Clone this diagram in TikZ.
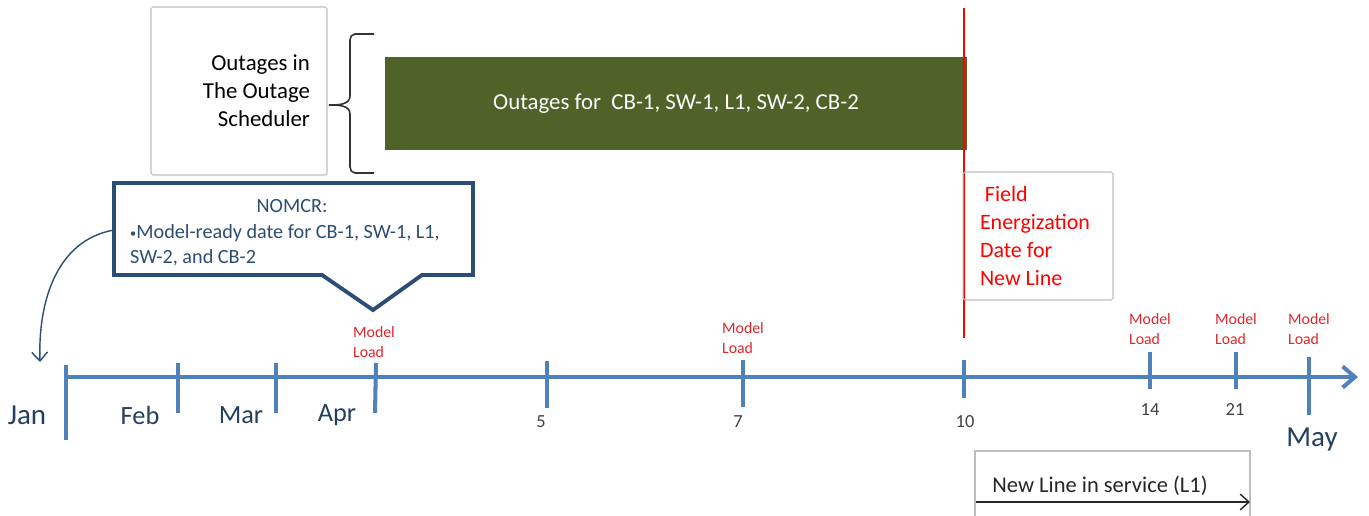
\documentclass[tikz,border=0pt]{standalone}
\usepackage{fontspec}
\setmainfont{Carlito}
\usetikzlibrary{arrows.meta}

\definecolor{axisblue}{HTML}{4F81BD}
\definecolor{barolive}{HTML}{4F6228}
\definecolor{calloutblue}{HTML}{2C4D75}
\definecolor{monthblue}{HTML}{243F60}
\definecolor{numgrey}{HTML}{404040}
\definecolor{boxgrey}{HTML}{BFBFBF}
\definecolor{loadred}{HTML}{E0262B}

\newcommand{\smallbullet}{{\fontsize{7}{7}\selectfont\raisebox{0.5pt}{•}}}

\begin{document}
\begin{tikzpicture}[x=0.02cm,y=-0.02cm,
    axisline/.style={axisblue,line width=2.3pt},
    axistick/.style={axisblue,line width=2.3pt},
    month/.style={monthblue,font=\fontsize{15}{18}\selectfont},
    bigmonth/.style={monthblue,font=\fontsize{16.5}{19}\selectfont},
    daynum/.style={numgrey,font=\fontsize{10.5}{12}\selectfont},
    modelload/.style={loadred,align=flush left,font=\fontsize{9}{11}\selectfont},
    greybox/.style={draw=boxgrey,line width=0.6pt,rounded corners=1pt}]
  \useasboundingbox (0,0) rectangle (1369,516);

  % Scheduler box and brace
  \node[greybox,minimum width=3.52cm,minimum height=3.36cm,text width=2.84cm,
        inner xsep=0.34cm,align=flush right,font=\fontsize{13}{16}\selectfont]
        (sched) at (239,91) {Outages in\\The Outage\\Scheduler};
  \draw[line width=0.9pt,black!80] (374,34) -- (355,34) to[out=180,in=90] (350,40)
        -- (350,96) to[out=-90,in=0] (329,105) to[out=0,in=90] (350,114)
        -- (350,167) to[out=-90,in=180] (355,173) -- (374,173);

  % Outage bar
  \node[fill=barolive,minimum width=11.64cm,minimum height=1.86cm,text=white,
        font=\fontsize{13}{16}\selectfont] (outbar) at (676,103.5)
        {Outages for\ \ CB-1, SW-1, L1, SW-2, CB-2};

  % Energization line and box
  \draw[red,line width=0.7pt] (964,8) -- (964,338);
  \node[greybox,minimum width=3cm,minimum height=2.56cm,text width=2.32cm,
        inner xsep=0.34cm,align=flush left,text=red,font=\fontsize{12.5}{16}\selectfont]
        (fieldbox) at (1038,236) {\ Field\\Energization\\Date for\\New Line};

  % NOMCR callout
  \draw[calloutblue,line width=2.2pt] (114,183) -- (473,183) -- (473,275) -- (422,275)
        -- (373,310) -- (322,275) -- (114,275) -- cycle;
  \node[calloutblue,font=\fontsize{11.5}{14}\selectfont] (nomcr) at (292,206) {NOMCR:};
  \node[calloutblue,anchor=west,align=flush left,font=\fontsize{11.5}{14}\selectfont]
        (readydate) at (124,245) {\smallbullet Model-ready date for CB-1, SW-1, L1,\\SW-2, and CB-2};
  \coordinate (calloutleft) at (114,230);
  \coordinate (janmark) at (40,362);
  \draw[calloutblue,line width=0.8pt,-{Straight Barb[length=5pt,width=9pt]}]
        (calloutleft) to[out=190,in=92] (janmark);

  % Time axis
  \draw[axisline,-{Straight Barb[length=7pt,width=12pt]}] (66,377) -- (1358,377);
  \draw[axistick] (66,365) -- (66,440);
  \draw[axistick] (178,363) -- (178,413);
  \draw[axistick] (276,363) -- (276,413);
  \draw[axistick] (376,363) -- (375,413);
  \draw[axistick] (547,361) -- (547,408);
  \draw[axistick] (743,360) -- (743,407);
  \draw[axistick] (964,360) -- (964,398);
  \draw[axistick] (1150,352) -- (1150,389);
  \draw[axistick] (1236,352) -- (1236,389);
  \draw[axistick] (1309,357) -- (1309,415);

  % Months
  \node[bigmonth] (jan) at (27,415) {Jan};
  \node[month] (feb) at (140,415) {Feb};
  \node[month] (mar) at (241,415) {Mar};
  \node[month] (apr) at (337,415) {Apr};
  \node[bigmonth] (may) at (1312,440) {May};

  % Days
  \node[daynum] (d5) at (541,422) {5};
  \node[daynum] (d7) at (738,422) {7};
  \node[daynum] (d10) at (965,422) {10};
  \node[daynum] (d14) at (1150,410) {14};
  \node[daynum] (d21) at (1235,410) {21};

  % Model loads
  \node[modelload] (loadapr) at (374,342) {Model\\Load};
  \node[modelload] (load7) at (743,338) {Model\\Load};
  \node[modelload] (load14) at (1150,329) {Model\\Load};
  \node[modelload] (load21) at (1236,329) {Model\\Load};
  \node[modelload] (loadmay) at (1309,329) {Model\\Load};

  % In service
  \draw[boxgrey,line width=0.6pt] (975,530) -- (975,451) -- (1250,451) -- (1250,530);
  \node[font=\fontsize{12.8}{15}\selectfont,black!85] (service) at (1100,486) {New Line in service (L1)};
  \coordinate (servstart) at (976,502);
  \coordinate (servend) at (1250,502);
  \draw[black!85,line width=0.8pt,-{Straight Barb[length=5pt,width=9pt]}] (servstart) -- (servend);
\end{tikzpicture}
\end{document}
